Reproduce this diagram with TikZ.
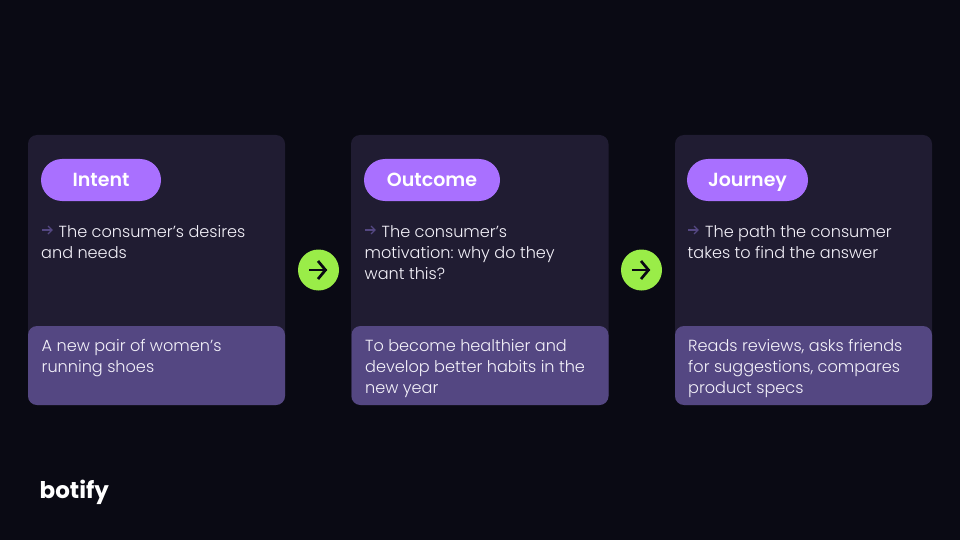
\documentclass[tikz,border=0pt]{standalone}
\usepackage{fontspec}
\setmainfont{Poppins}[UprightFont=* Light,BoldFont=* SemiBold]
\newfontfamily\logofont{Poppins}[UprightFont=* Bold]
\frenchspacing
\definecolor{bgc}{HTML}{0A0A14}
\definecolor{cardc}{HTML}{201C32}
\definecolor{panelc}{HTML}{544782}
\definecolor{pillc}{HTML}{A970FF}
\definecolor{greenc}{HTML}{9AED48}
\definecolor{txtc}{HTML}{F4F2FA}
\tikzset{
  x=1pt,y=-1pt,
  cardbox/.style={fill=cardc,draw=none,rounded corners=9pt},
  panelbox/.style={fill=panelc,draw=none,rounded corners=9pt},
  pillbox/.style={fill=pillc,draw=none,rounded corners=21pt},
  body/.style={anchor=base west,inner sep=0pt,text=txtc,font=\fontsize{16.1}{21}\selectfont},
  pilltext/.style={anchor=base,inner sep=0pt,text=white,font=\fontsize{19}{24}\selectfont\bfseries},
  nextdot/.style={circle,fill=greenc,draw=none,minimum size=41pt,inner sep=0pt},
  nextarrow/.style={draw=bgc,line width=2.7pt},
  bulletarrow/.style={draw=panelc,line width=1.3pt},
}
\newcommand{\nextglyph}[1]{%
  \draw[nextarrow] ([xshift=-9.5pt]#1.center) -- ([xshift=8pt]#1.center);
  \draw[nextarrow] ([xshift=-0.5pt,yshift=9pt]#1.center) -- ([xshift=7pt]#1.center) -- ([xshift=-0.5pt,yshift=-9pt]#1.center);
}
\newcommand{\bulletglyph}[2]{%
  \draw[bulletarrow] (#1,#2) -- (#1+10,#2);
  \draw[bulletarrow] (#1+6,#2-4) -- (#1+10,#2) -- (#1+6,#2+4);
}
\begin{document}
\begin{tikzpicture}
\useasboundingbox (0,0) rectangle (960,540);
\fill[bgc] (0,0) rectangle (960,540);
% cards
\fill[cardbox] (28,135) rectangle (285,405);
\fill[cardbox] (351,135) rectangle (608.5,405);
\fill[cardbox] (675,135) rectangle (932,405);
% panels
\fill[panelbox] (28,326) rectangle (285,405);
\fill[panelbox] (351.5,326) rectangle (608.5,405);
\fill[panelbox] (675,326) rectangle (932,405);
% pills
\fill[pillbox] (41,159) rectangle (161,201);
\fill[pillbox] (364,159) rectangle (500,201);
\fill[pillbox] (687,159) rectangle (808,201);
\node[pilltext] (p1) at (101,186) {Intent};
\node[pilltext] (p2) at (432,186) {Outcome};
\node[pilltext] (p3) at (747.5,186) {Journey};
% bullets
\bulletglyph{42}{230}
\bulletglyph{365}{230}
\bulletglyph{688}{230}
% upper text
\node[body] (a1) at (58.5,237) {The consumer’s desires};
\node[body] (a2) at (41,258) {and needs};
\node[body] (b1) at (381.5,237) {The consumer’s};
\node[body] (b2) at (364.5,258) {motivation: why do they};
\node[body] (b3) at (364.5,279) {want this?};
\node[body] (c1) at (705,237) {The path the consumer};
\node[body] (c2) at (687.5,258) {takes to find the answer};
% lower text
\node[body] (d1) at (41.5,351) {A new pair of women’s};
\node[body] (d2) at (41.5,372) {running shoes};
\node[body] (e1) at (365,351) {To become healthier and};
\node[body] (e2) at (365,372) {develop better habits in the};
\node[body] (e3) at (365,393) {new year};
\node[body] (f1) at (688,351) {Reads reviews, asks friends};
\node[body] (f2) at (688,372) {for suggestions, compares};
\node[body] (f3) at (688,393) {product specs};
% arrows
\node[nextdot] (n1) at (318.5,270) {};
\node[nextdot] (n2) at (641.5,270) {};
\nextglyph{n1}
\nextglyph{n2}
% logo
\node[anchor=base west,inner sep=0pt,text=white,font=\logofont\fontsize{23}{23}\selectfont] (logo) at (39.5,498.5) {botify};
\end{tikzpicture}
\end{document}
